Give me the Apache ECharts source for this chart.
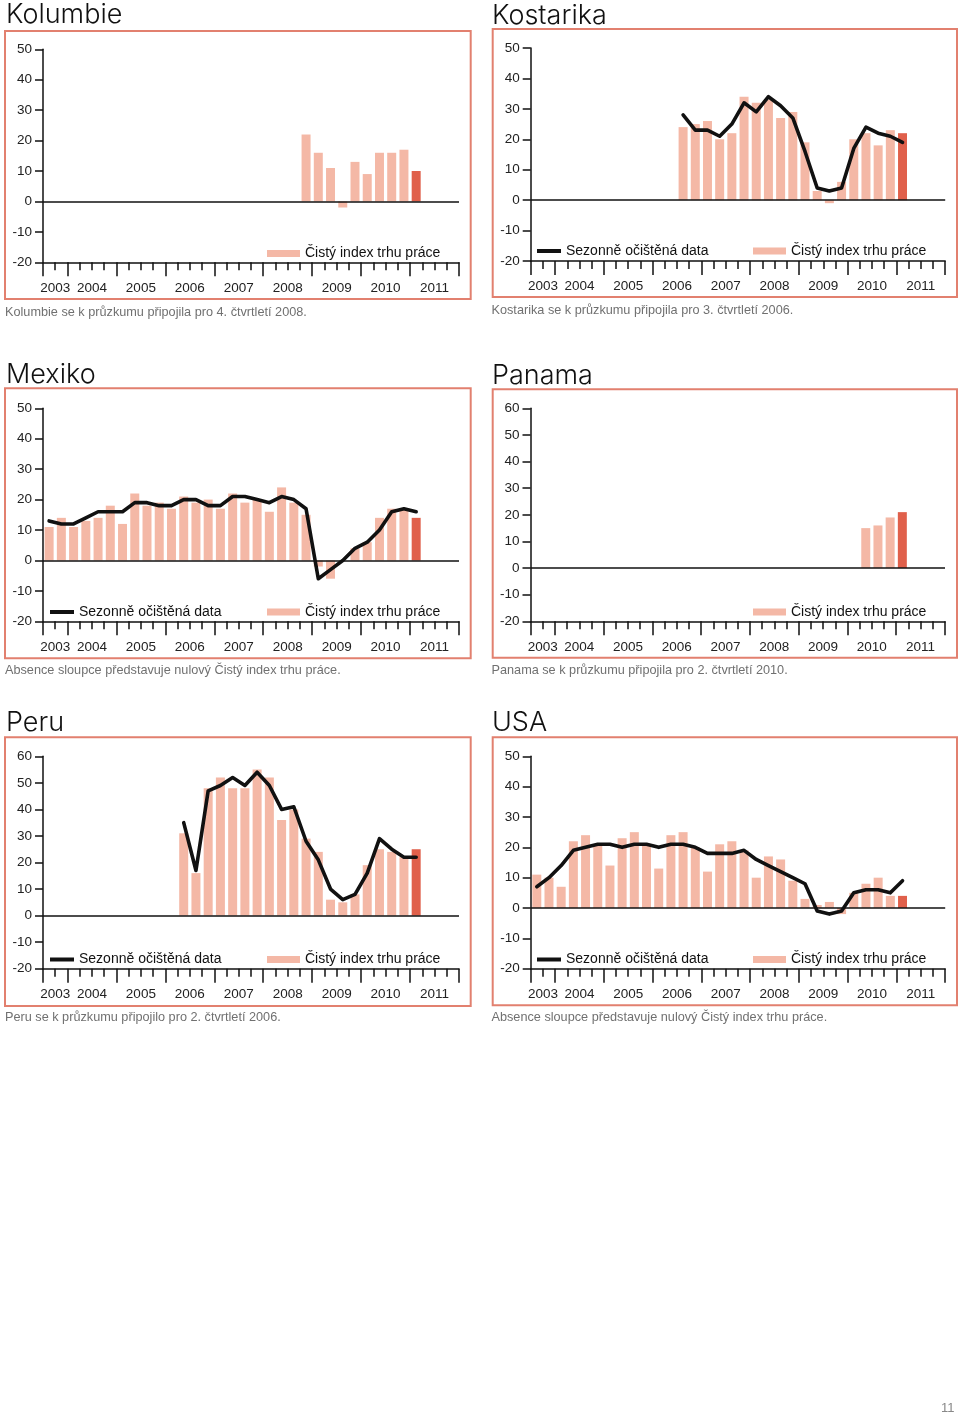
<!DOCTYPE html>
<html><head><meta charset="utf-8">
<script src="https://cdn.jsdelivr.net/npm/echarts@6/dist/echarts.min.js"></script>
<style>html,body{margin:0;padding:0;background:#fff}#c{width:960px;height:1417px}</style>
</head><body><div id="c"></div>
<script>
// ---- DATA ----
const quarters = [
  '2003 Q3','2003 Q4',
  '2004 Q1','2004 Q2','2004 Q3','2004 Q4',
  '2005 Q1','2005 Q2','2005 Q3','2005 Q4',
  '2006 Q1','2006 Q2','2006 Q3','2006 Q4',
  '2007 Q1','2007 Q2','2007 Q3','2007 Q4',
  '2008 Q1','2008 Q2','2008 Q3','2008 Q4',
  '2009 Q1','2009 Q2','2009 Q3','2009 Q4',
  '2010 Q1','2010 Q2','2010 Q3','2010 Q4',
  '2011 Q1','2011 Q2','2011 Q3','2011 Q4'
];
const years = ['2003','2004','2005','2006','2007','2008','2009','2010','2011'];
const _ = null;

const kolumbieNet = [_,_,_,_,_,_,_,_,_,_,_,_,_,_,_,_,_,_,_,_,_,
  22,16,11,-2,13,9,16,16,17,10];

const kostarikaNet = [_,_,_,_,_,_,_,_,_,_,_,_,
  24,25,26,20,22,34,32,33,27,29,19,3,-1,6,20,22,18,23,22];
const kostarikaSA = [_,_,_,_,_,_,_,_,_,_,_,_,
  28,23,23,21,25,32,29,34,31,27,16,4,3,4,17,24,22,21,19];

const mexikoNet = [11,14,11,13,14,18,12,22,18,19,17,21,19,20,17,22,19,20,16,24,19,15,-2,-6,0,4,6,14,17,17,14];
const mexikoSA  = [13,12,12,14,16,16,16,19,19,18,18,20,20,18,18,21,21,20,19,21,20,17,-6,-3,0,4,6,10,16,17,16];

const panamaNet = [_,_,_,_,_,_,_,_,_,_,_,_,_,_,_,_,_,_,_,_,_,_,_,_,_,_,_,
  15,16,19,21];

const peruNet = [_,_,_,_,_,_,_,_,_,_,_,
  31,16,48,52,48,48,55,52,36,40,29,24,6,5,8,19,25,24,22,25];
const peruSA  = [_,_,_,_,_,_,_,_,_,_,_,
  35,17,47,49,52,49,54,49,40,41,28,21,10,6,8,16,29,25,22,22];

const usaNet = [11,10,7,22,24,21,14,23,25,21,13,24,25,20,12,21,22,19,10,17,16,9,3,1,2,-2,5,8,10,4,4];
const usaSA  = [7,10,14,19,20,21,21,20,21,21,20,21,21,20,18,18,18,19,16,14,12,10,8,-1,-2,-1,5,6,6,5,9];

const titles = ['Kolumbie','Kostarika','Mexiko','Panama','Peru','USA'];
const captions = [
  'Kolumbie se k průzkumu připojila pro 4. čtvrtletí 2008.',
  'Kostarika se k průzkumu připojila pro 3. čtvrtletí 2006.',
  'Absence sloupce představuje nulový Čistý index trhu práce.',
  'Panama se k průzkumu připojila pro 2. čtvrtletí 2010.',
  'Peru se k průzkumu připojilo pro 2. čtvrtletí 2006.',
  'Absence sloupce představuje nulový Čistý index trhu práce.'
];
const yMaxes = [50,50,50,60,60,50];
const netSeries = [kolumbieNet,kostarikaNet,mexikoNet,panamaNet,peruNet,usaNet];
const saSeries = [null,kostarikaSA,mexikoSA,null,peruSA,usaSA];
const LBL_SA = 'Sezonně očištěná data';
const LBL_NET = 'Čistý index trhu práce';

// ---- LAYOUT / STYLE ----
const PINK = '#f4b8a6', DARK = '#e0604b', BORDER = '#e2806f', INK = '#111';
const layout = [
  {box:[5,31,465.7,268], grid:[43,49.3,416,213], title:[6,1], cap:[5,305.5], lsa:[50,254], lnet:[267,254]},
  {box:[492.7,29,464.3,268], grid:[530.7,48,414.5,213], title:[492,2], cap:[491.5,303.5], lsa:[537,251.5], lnet:[753,251.5]},
  {box:[5,388.3,465.7,270], grid:[43,408.3,416,213], title:[6,361], cap:[5,663.5], lsa:[50,612.5], lnet:[267,612.5]},
  {box:[492.7,389.3,464.3,268.5], grid:[530.5,408.3,414.5,213], title:[492,362], cap:[491.5,663.5], lsa:[537,612.5], lnet:[753,612.5]},
  {box:[5,737.3,465.7,268.7], grid:[43,756.3,416,212.4], title:[6,709], cap:[5,1011], lsa:[50,960], lnet:[267,960]},
  {box:[492.7,737.3,464.3,268], grid:[530.7,756.3,414.5,212.4], title:[492,709], cap:[491.5,1011], lsa:[537,960], lnet:[753,960]}
];

// year boundaries / centers derived from quarter list
const yearStart = {}, yearEnd = {};
quarters.forEach((q,i)=>{const y=q.slice(0,4); if(!(y in yearStart)) yearStart[y]=i; yearEnd[y]=i+1;});
const majorTicks = [0].concat(years.map(y=>yearEnd[y]));
const labelPos = years.map(y=>(yearStart[y]+yearEnd[y])/2);
const labelMap = {}; years.forEach((y,i)=>labelMap[labelPos[i]]=y);

const FONT = '"Liberation Sans", Arial, sans-serif';
const axisLineStyle = {color:INK, width:1.5};

const option = {backgroundColor:'#fff', animation:false,
  title:[], grid:[], xAxis:[], yAxis:[], series:[], legend:[], graphic:[]};

layout.forEach((L,i)=>{
  option.graphic.push({type:'rect', silent:true, shape:{x:L.box[0],y:L.box[1],width:L.box[2],height:L.box[3]},
    style:{fill:'none', stroke:BORDER, lineWidth:2}});
  option.title.push({text:titles[i], left:L.title[0], top:L.title[1], padding:0,
    textStyle:{fontSize:27, fontWeight:300, fontFamily:'Inter, "Open Sans", sans-serif', color:INK}});
  option.title.push({text:captions[i], left:L.cap[0], top:L.cap[1], padding:0,
    textStyle:{fontSize:12.7, fontWeight:'normal', fontFamily:FONT, color:'#707070'}});
  option.grid.push({left:L.grid[0], top:L.grid[1], width:L.grid[2], height:L.grid[3], containLabel:false});
  option.xAxis.push({type:'category', gridIndex:i, data:quarters, boundaryGap:true, position:'bottom',
    axisLine:{show:true, onZero:false, lineStyle:axisLineStyle},
    axisTick:{show:true, interval:0, length:8, lineStyle:axisLineStyle},
    axisLabel:{show:false}, splitLine:{show:false}});
  option.xAxis.push({type:'value', gridIndex:i, min:0, max:quarters.length, position:'bottom',
    axisLine:{show:false, onZero:false}, splitLine:{show:false},
    axisTick:{show:true, customValues:majorTicks, length:14, lineStyle:axisLineStyle},
    axisLabel:{show:true, customValues:labelPos, formatter:v=>labelMap[v]||'', margin:18.5,
      fontSize:13.5, color:'#222', fontFamily:FONT}});
  option.yAxis.push({type:'value', gridIndex:i, min:-20, max:yMaxes[i], interval:10,
    axisLine:{show:true, onZero:false, lineStyle:axisLineStyle},
    axisTick:{show:true, length:8, lineStyle:axisLineStyle},
    axisLabel:{margin:11, fontSize:13.5, color:'#222', fontFamily:FONT}, splitLine:{show:false}});
  const net = netSeries[i];
  let lastIdx = -1; net.forEach((v,k)=>{ if(v!=null) lastIdx=k; });
  option.series.push({type:'bar', name:LBL_NET, xAxisIndex:2*i, yAxisIndex:i, barWidth:9,
    itemStyle:{color:PINK}, z:2,
    data: quarters.map((q,k)=>{const v=net[k]; if(v==null) return null;
      return k===lastIdx ? {value:v, itemStyle:{color:DARK}} : v;}),
    markLine:{silent:true, symbol:['none','none'], label:{show:false},
      lineStyle:{color:INK, width:1.5, type:'solid'}, data:[{yAxis:0}], animation:false}});
  const sa = saSeries[i];
  if (sa) {
    option.series.push({type:'line', name:LBL_SA, xAxisIndex:2*i, yAxisIndex:i, z:3,
      symbol:'none', connectNulls:false, itemStyle:{color:INK},
      lineStyle:{color:INK, width:3.6, join:'round', cap:'round'},
      data: quarters.map((q,k)=> sa[k]==null ? null : sa[k])});
    option.legend.push({data:[LBL_SA], left:L.lsa[0], top:L.lsa[1]-7.5, padding:0, icon:'rect',
      itemWidth:24, itemHeight:4, selectedMode:false, textStyle:{fontSize:14, color:INK, fontFamily:FONT}});
  }
  option.legend.push({data:[LBL_NET], left:L.lnet[0], top:L.lnet[1]-7.5, padding:0, icon:'rect',
    itemWidth:33, itemHeight:7, selectedMode:false, textStyle:{fontSize:14, color:INK, fontFamily:FONT}});
});
option.title.push({text:'11', left:941, top:1402, padding:0,
  textStyle:{fontSize:13, fontWeight:'normal', fontFamily:FONT, color:'#888'}});

const chart = echarts.init(document.getElementById('c'), null, {renderer:'canvas', width:960, height:1417});
chart.setOption(option);
</script></body></html>
